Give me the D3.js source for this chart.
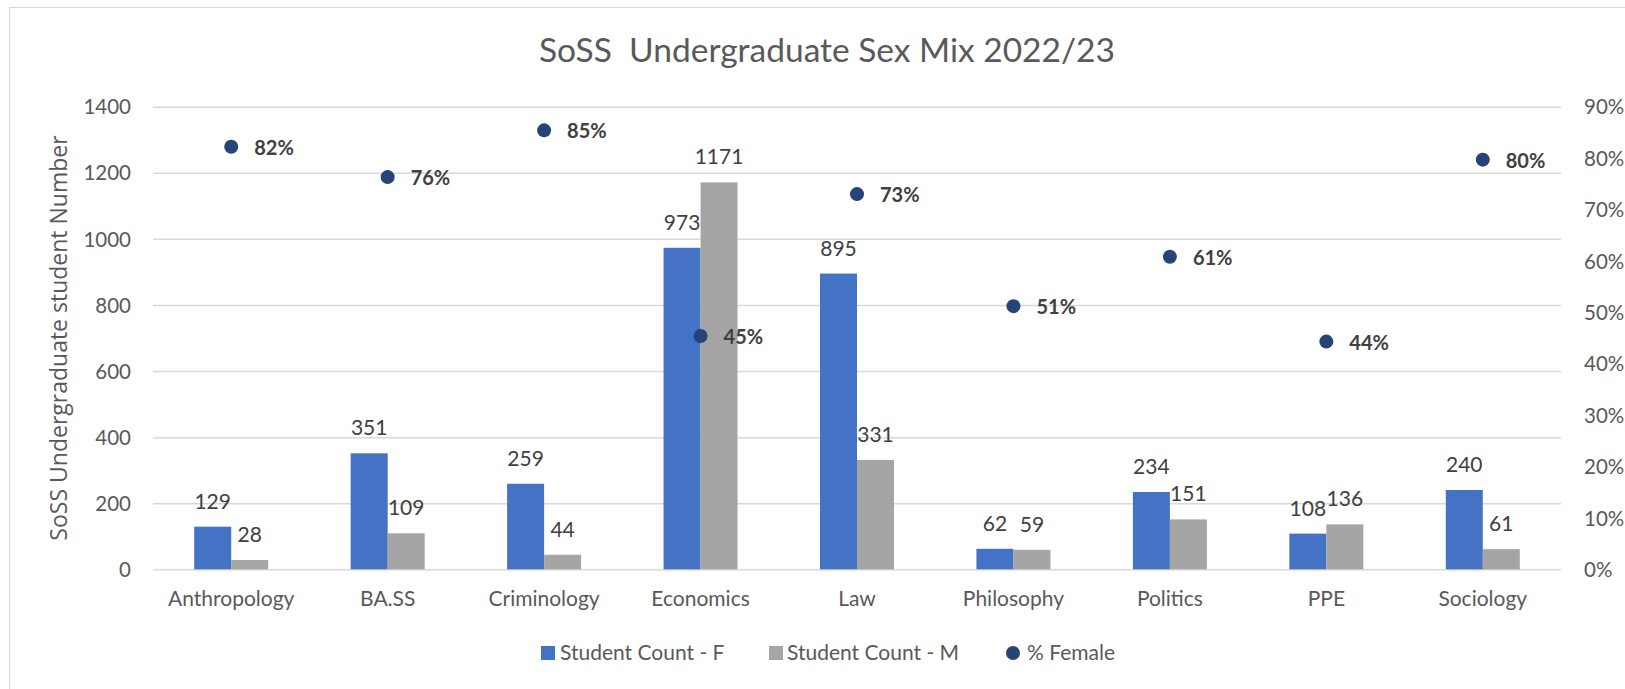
<!DOCTYPE html>
<html>
<head>
<meta charset="utf-8">
<script src="https://cdn.jsdelivr.net/npm/d3@7"></script>
<style>
  body { margin: 0; background: #fff; }
  svg { display: block; }
  .lbl { font-family: Lato, "Liberation Sans", sans-serif; fill: #595959; }
</style>
</head>
<body>
<div id="chart"></div>
<script>
// data
var categories = ["Anthropology", "BA.SS", "Criminology", "Economics", "Law", "Philosophy", "Politics", "PPE", "Sociology"];
var countF = [129, 351, 259, 973, 895, 62, 234, 108, 240];
var countM = [28, 109, 44, 1171, 331, 59, 151, 136, 61];
var pctFemale = [0.822, 0.763, 0.854, 0.454, 0.730, 0.512, 0.608, 0.443, 0.797];
var leftTicks = [0, 200, 400, 600, 800, 1000, 1200, 1400];
var rightTicks = [0, 0.1, 0.2, 0.3, 0.4, 0.5, 0.6, 0.7, 0.8, 0.9];
var seriesNames = ["Student Count - F", "Student Count - M", "% Female"];

var W = 1625, H = 689;
var plot = { left: 153, right: 1561, top: 106.7, bottom: 569.3 };
var barW = 37;

var svg = d3.select("#chart")
    .append("svg")
    .attr("width", W)
    .attr("height", H);

// chart border
svg.append("rect")
    .attr("x", 9.5).attr("y", 7.5)
    .attr("width", 1640).attr("height", 700)
    .attr("fill", "none")
    .attr("stroke", "#D9D9D9")
    .attr("stroke-width", 1);

var x = d3.scaleBand()
    .domain(categories)
    .range([plot.left, plot.right])
    .padding(0);

var y = d3.scaleLinear()
    .domain([0, 1400])
    .range([plot.bottom, plot.top]);

var y2 = d3.scaleLinear()
    .domain([0, 0.9])
    .range([plot.bottom, plot.top]);

// gridlines
svg.append("g")
    .attr("transform", "translate(" + plot.left + ",0)")
    .call(d3.axisLeft(y).tickValues(leftTicks).tickSize(-(plot.right - plot.left)).tickFormat(""))
    .call(function (g) { g.select(".domain").remove(); })
    .selectAll("line")
    .attr("stroke", "#D9D9D9")
    .attr("stroke-width", 1.5);

// left axis labels
var yAxis = svg.append("g")
    .attr("transform", "translate(131,0)")
    .call(d3.axisLeft(y).tickValues(leftTicks).tickSize(0).tickPadding(0).tickFormat(d3.format("d")));
yAxis.select(".domain").remove();
yAxis.selectAll("text")
    .attr("class", "lbl")
    .attr("font-size", 20.5)
    .attr("dy", "0.35em");

// right axis labels
var y2Axis = svg.append("g")
    .attr("transform", "translate(1584,0)")
    .call(d3.axisRight(y2).tickValues(rightTicks).tickSize(0).tickPadding(0).tickFormat(d3.format(".0%")));
y2Axis.select(".domain").remove();
y2Axis.selectAll("text")
    .attr("class", "lbl")
    .attr("font-size", 20.5)
    .attr("dy", "0.35em");

// category labels
var xAxis = svg.append("g")
    .attr("transform", "translate(0," + plot.bottom + ")")
    .call(d3.axisBottom(x).tickSize(0).tickPadding(0));
xAxis.select(".domain").remove();
xAxis.selectAll("text")
    .attr("class", "lbl")
    .attr("font-size", 21)
    .attr("y", 37)
    .attr("dy", 0);

// bars
var bars = svg.append("g");
bars.selectAll("rect.f")
    .data(countF)
    .join("rect")
    .attr("class", "f")
    .attr("x", function (d, i) { return x(categories[i]) + x.bandwidth() / 2 - barW; })
    .attr("y", function (d) { return y(d); })
    .attr("width", barW)
    .attr("height", function (d) { return y(0) - y(d); })
    .attr("fill", "#4472C4");

bars.selectAll("rect.m")
    .data(countM)
    .join("rect")
    .attr("class", "m")
    .attr("x", function (d, i) { return x(categories[i]) + x.bandwidth() / 2; })
    .attr("y", function (d) { return y(d); })
    .attr("width", barW)
    .attr("height", function (d) { return y(0) - y(d); })
    .attr("fill", "#A5A5A5");

// bar value labels
var vals = svg.append("g")
    .attr("font-family", "Lato, 'Liberation Sans', sans-serif")
    .attr("font-size", 21)
    .attr("fill", "#404040")
    .attr("text-anchor", "middle");

vals.selectAll("text.f")
    .data(countF)
    .join("text")
    .attr("class", "f")
    .attr("x", function (d, i) { return x(categories[i]) + x.bandwidth() / 2 - barW / 2; })
    .attr("y", function (d) { return y(d) - 18; })
    .text(function (d) { return d; });

vals.selectAll("text.m")
    .data(countM)
    .join("text")
    .attr("class", "m")
    .attr("x", function (d, i) { return x(categories[i]) + x.bandwidth() / 2 + barW / 2; })
    .attr("y", function (d) { return y(d) - 18; })
    .text(function (d) { return d; });

// % female dots
svg.append("g")
    .selectAll("circle")
    .data(pctFemale)
    .join("circle")
    .attr("cx", function (d, i) { return x(categories[i]) + x.bandwidth() / 2; })
    .attr("cy", function (d) { return y2(d); })
    .attr("r", 7)
    .attr("fill", "#264478");

svg.append("g")
    .attr("font-family", "Lato, 'Liberation Sans', sans-serif")
    .attr("font-weight", "bold")
    .attr("font-size", 20)
    .attr("fill", "#404040")
    .selectAll("text")
    .data(pctFemale)
    .join("text")
    .attr("x", function (d, i) { return x(categories[i]) + x.bandwidth() / 2 + 23; })
    .attr("y", function (d) { return y2(d) + 8; })
    .text(function (d) { return d3.format(".0%")(d); });

// title
svg.append("text")
    .attr("class", "lbl")
    .attr("x", 827)
    .attr("y", 62)
    .attr("text-anchor", "middle")
    .attr("font-size", 33.5)
    .text("SoSS\u00a0 Undergraduate Sex Mix 2022/23");

// y axis title
svg.append("text")
    .attr("transform", "translate(67,338) rotate(-90)")
    .attr("text-anchor", "middle")
    .attr("font-family", "'Open Sans', sans-serif")
    .attr("font-size", 23)
    .attr("fill", "#595959")
    .text("SoSS Undergraduate student Number");

// legend
var legend = svg.append("g")
    .attr("font-family", "Lato, 'Liberation Sans', sans-serif")
    .attr("font-size", 21)
    .attr("fill", "#595959");

legend.append("rect").attr("x", 541).attr("y", 646).attr("width", 14).attr("height", 14).attr("fill", "#4472C4");
legend.append("text").attr("x", 560).attr("y", 660).text(seriesNames[0]);
legend.append("rect").attr("x", 769).attr("y", 646).attr("width", 14).attr("height", 14).attr("fill", "#A5A5A5");
legend.append("text").attr("x", 787).attr("y", 660).text(seriesNames[1]);
legend.append("circle").attr("cx", 1013).attr("cy", 653).attr("r", 7).attr("fill", "#264478");
legend.append("text").attr("x", 1027).attr("y", 660).text(seriesNames[2]);
</script>
</body>
</html>
